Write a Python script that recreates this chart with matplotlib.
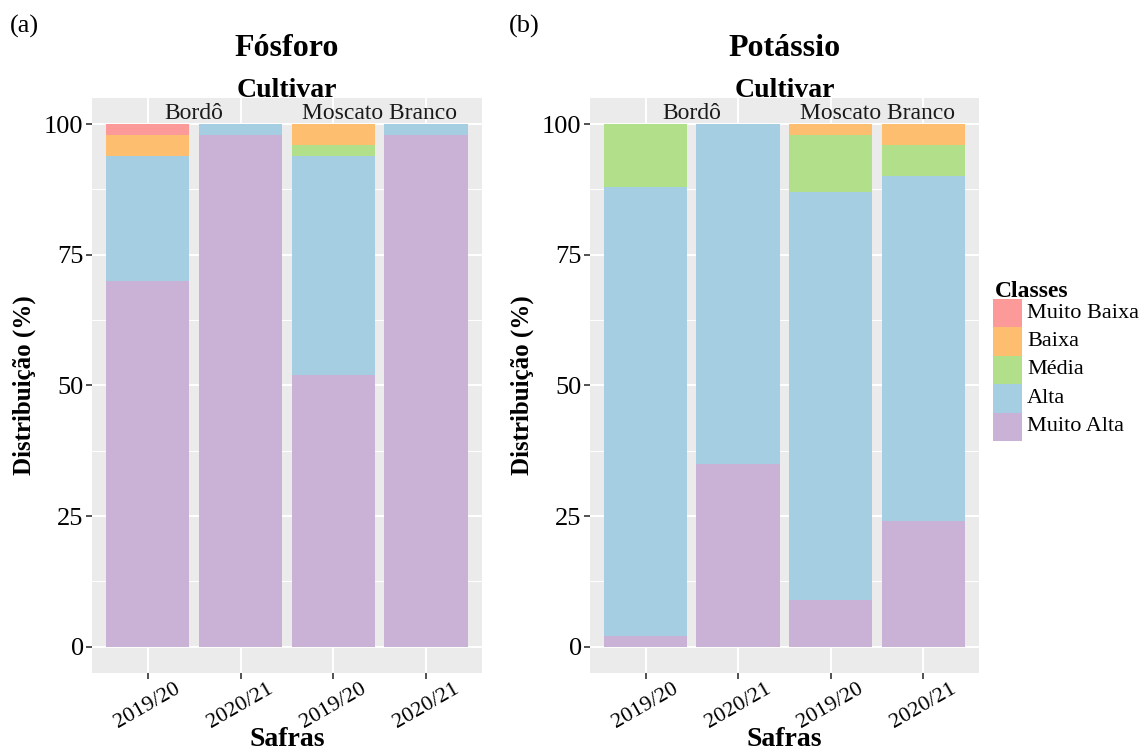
import matplotlib
matplotlib.use("Agg")
import matplotlib.pyplot as plt
from matplotlib.patches import Rectangle
import numpy as np

plt.rcParams['font.family'] = ['Liberation Serif', 'DejaVu Serif']

classes = ['Muito Baixa', 'Baixa', 'Média', 'Alta', 'Muito Alta']
colors = ['#FB9A99', '#FDBF6F', '#B2DF8A', '#A6CEE3', '#CAB2D6']
safras = ['2019/20', '2020/21', '2019/20', '2020/21']
cultivares = ['Bordô', 'Moscato Branco']

# Fósforo (%), one value per bar
p_muito_baixa = [2, 0, 0, 0]
p_baixa = [4, 0, 4, 0]
p_media = [0, 0, 2, 0]
p_alta = [24, 2, 42, 2]
p_muito_alta = [70, 98, 52, 98]

# Potássio (%)
k_muito_baixa = [0, 0, 0, 0]
k_baixa = [0, 0, 2, 4]
k_media = [12, 0, 11, 6]
k_alta = [86, 65, 78, 66]
k_muito_alta = [2, 35, 9, 24]

W, H = 1144, 751
fig = plt.figure(figsize=(W / 100, H / 100), dpi=100)
ax1 = fig.add_axes([0.0804, 0.1039, 0.3409, 0.7656])
ax2 = fig.add_axes([0.5157, 0.1039, 0.3400, 0.7656])


def draw(ax, series, title):
    x = np.arange(1, len(safras) + 1)
    ax.set_facecolor('#EBEBEB')
    bottom = np.zeros(len(safras))
    # stack from the bottom class up
    for vals, col in zip(series[::-1], colors[::-1]):
        ax.bar(x, vals, width=0.9, bottom=bottom, color=col, zorder=3)
        bottom += np.array(vals)
    ax.set_xlim(0.4, 4.6)
    ax.set_ylim(-5, 105)
    ax.set_yticks([0, 25, 50, 75, 100])
    ax.set_yticks([12.5, 37.5, 62.5, 87.5], minor=True)
    ax.set_xticks(x)
    ax.set_xticklabels(safras, rotation=30, ha='center', fontsize=16)
    ax.tick_params(axis='y', labelsize=19, length=4, width=1.2, color='#333333', pad=2)
    ax.tick_params(axis='x', length=4, width=1.2, color='#333333', pad=1)
    ax.tick_params(axis='y', which='minor', length=0)
    ax.grid(which='major', color='white', linewidth=1.4, zorder=1)
    ax.grid(which='minor', axis='y', color='white', linewidth=0.7, zorder=1)
    ax.set_axisbelow(True)
    for s in ax.spines.values():
        s.set_visible(False)
    for i, c in enumerate(cultivares):
        ax.text(1.5 + 2 * i, 100.9, c, ha='center', va='baseline', fontsize=17, color='#1a1a1a', zorder=4)
    ax.set_ylabel('Distribuição (%)', fontsize=18, fontweight='bold', labelpad=6)
    pos = ax.get_position()
    cx = (pos.x0 + pos.x1) / 2
    fig.text(cx, 1 - 746 / H, 'Safras', ha='center', va='baseline',
             fontsize=20, fontweight='bold')
    fig.text(cx, 1 - 97 / H, 'Cultivar', ha='center', va='baseline',
             fontsize=20, fontweight='bold')
    fig.text(cx, 1 - 56 / H, title, ha='center', va='baseline',
             fontsize=23, fontweight='bold')


draw(ax1, [p_muito_baixa, p_baixa, p_media, p_alta, p_muito_alta], 'Fósforo')
draw(ax2, [k_muito_baixa, k_baixa, k_media, k_alta, k_muito_alta], 'Potássio')

fig.text(0.009, 0.965, '(a)', fontsize=19, va='center')
fig.text(0.445, 0.965, '(b)', fontsize=19, va='center')

# legend drawn by hand (ggplot-style square keys)
key_x, key_y, key_w, key_h = 993, 299, 29, 28.4
fig.text((key_x + 2) / W, 1 - 297 / H, 'Classes', ha='left', va='baseline',
         fontsize=17, fontweight='bold')
for i, (lab, col) in enumerate(zip(classes, colors)):
    top = key_y + i * key_h
    fig.add_artist(Rectangle((key_x / W, 1 - (top + key_h) / H), key_w / W, key_h / H,
                             transform=fig.transFigure, facecolor=col, edgecolor='none'))
    fig.text((key_x + key_w + 5) / W, 1 - (top + key_h / 2) / H, lab,
             ha='left', va='center', fontsize=16)

fig.savefig('out.png', dpi=100)
